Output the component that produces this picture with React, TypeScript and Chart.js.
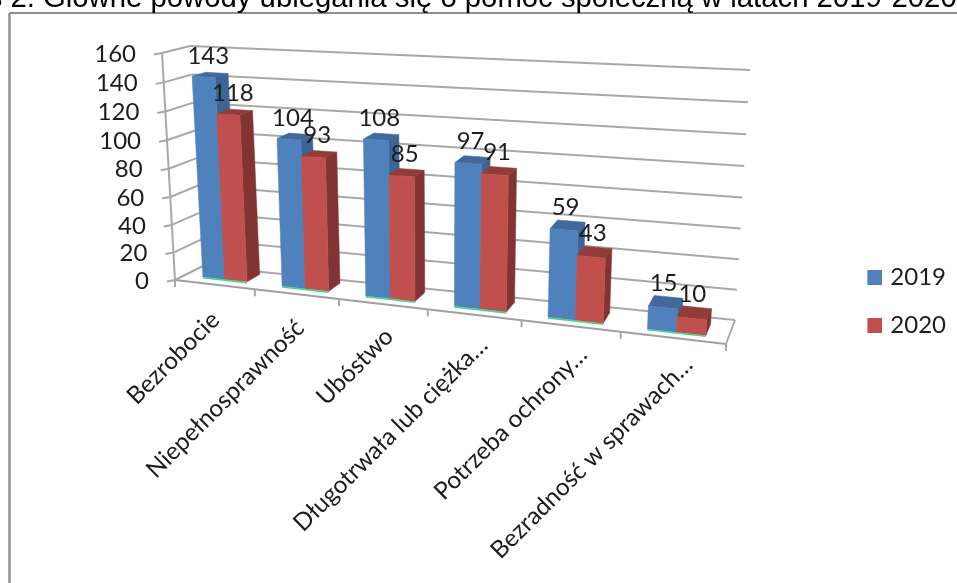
import React, { useEffect, useRef } from "react";
import { Chart, registerables } from "chart.js";

Chart.register(...registerables);

const categories = [
  "Bezrobocie",
  "Niepełnosprawność",
  "Ubóstwo",
  "Długotrwała lub ciężka…",
  "Potrzeba ochrony…",
  "Bezradność w sprawach…",
];
const values2019 = [143, 104, 108, 97, 59, 15];
const values2020 = [118, 93, 85, 91, 43, 10];
const yMax = 160;
const yStep = 20;
const titlePrefix = "Wykres 2. ";
const titleText = "Główne powody ubiegania się o pomoc społeczną w latach 2019-2020";

type P = [number, number];
// corners of the 3D box on screen
const FBL: P = [175, 280], FBR: P = [726, 344], BBL: P = [203, 266], BBR: P = [735, 320];
const FTL: P = [162, 53], FTR: P = [741, 84], BTL: P = [190, 46], BTR: P = [750, 70];
const KU = 1.18, KV = 1.04;
const DEPTH = 0.49;
const BAR_SHIFT = 0.0017;
const GRID = "#a8a8a8";
const TEXT = "#1c1c1c";
const FONT = "Lato";
const lerp = (a: P, b: P, t: number): P => [a[0] + (b[0] - a[0]) * t, a[1] + (b[1] - a[1]) * t];
const warp = (t: number, k: number) => t / (t + k * (1 - t));
const frontDepth = (u: number) => 0.37 - 0.13 * u;

function project(u: number, v: number, w: number): P {
  const uu = warp(u, KU), vv = warp(v, KV);
  const fb = lerp(FBL, FBR, uu), bb = lerp(BBL, BBR, uu);
  const ft = lerp(FTL, FTR, uu), bt = lerp(BTL, BTR, uu);
  return lerp(lerp(fb, bb, w), lerp(ft, bt, w), vv);
}

function poly(ctx: CanvasRenderingContext2D, pts: P[], fill: string) {
  ctx.beginPath();
  pts.forEach((p, i) => (i ? ctx.lineTo(p[0], p[1]) : ctx.moveTo(p[0], p[1])));
  ctx.closePath();
  ctx.fillStyle = fill;
  ctx.fill();
  ctx.strokeStyle = fill;
  ctx.lineWidth = 0.5;
  ctx.stroke();
}

function seg(ctx: CanvasRenderingContext2D, a: P, b: P, col = GRID, w = 2) {
  ctx.beginPath();
  ctx.moveTo(a[0], a[1]);
  ctx.lineTo(b[0], b[1]);
  ctx.strokeStyle = col;
  ctx.lineWidth = w;
  ctx.stroke();
}

const shades = [
  { front: "#4f81bd", side: "#3c6595", top: "#41699b" },
  { front: "#c0504d", side: "#823432", top: "#923c39" },
];

const scene3d = {
  id: "scene3d",
  beforeDatasetsDraw(chart: any) {
    const ctx: CanvasRenderingContext2D = chart.ctx;
    const a = chart.chartArea;
    const xs = chart.scales.x, ys = chart.scales.y;
    const U = (px: number) => (px - a.left) / (a.right - a.left);
    const V = (py: number) => (a.bottom - py) / (a.bottom - a.top);
    ctx.save();
    ctx.lineCap = "butt";

    // frame
    seg(ctx, [9.5, 13], [957, 13], "#8e8e8e", 2);
    seg(ctx, [9.5, 13], [9.5, 583], "#8e8e8e", 2.4);

    // title
    ctx.fillStyle = "#000";
    ctx.font = "29.3px 'Liberation Sans'";
    ctx.textAlign = "left";
    ctx.textBaseline = "alphabetic";
    ctx.fillText(titlePrefix + titleText, 43 - ctx.measureText(titlePrefix).width, 7);

    // walls
    ys.ticks.forEach((t: any) => {
      const v = V(ys.getPixelForValue(t.value));
      const f = project(0, v, 0), b = project(0, v, 1), r = project(1, v, 1);
      seg(ctx, f, b);
      seg(ctx, b, r);
      seg(ctx, f, [f[0] - 8, f[1] + 1.5]);
      ctx.fillStyle = TEXT;
      ctx.font = `24px ${FONT}`;
      ctx.textAlign = "right";
      ctx.textBaseline = "middle";
      ctx.fillText(t.label, f[0] - 26, f[1] + 1);
    });
    seg(ctx, project(0, 0, 0), project(0, 1, 0));
    seg(ctx, project(0, 0, 0), project(1, 0, 0), "#a0a0a0", 2);
    seg(ctx, project(1, 0, 0), project(1, 0, 1));
    // category boundaries and labels
    const n = categories.length;
    for (let i = 0; i <= n; i++) {
      const p = project(i / n, 0, 0);
      seg(ctx, p, [p[0], p[1] + 7]);
    }
    categories.forEach((_, i) => {
      const cx = U(xs.getPixelForValue(i));
      const m = warp(cx, KU);
      ctx.save();
      ctx.translate(216 + 569 * (m - 0.0725), 316 + 54 * (m - 0.0725));
      ctx.rotate(-Math.PI / 4);
      ctx.fillStyle = TEXT;
      ctx.font = `24.3px ${FONT}`;
      ctx.textAlign = "right";
      ctx.textBaseline = "middle";
      ctx.fillText(categories[i], 0, 0);
      ctx.restore();
    });

    // bars
    const metas = [chart.getDatasetMeta(0), chart.getDatasetMeta(1)];
    categories.forEach((_, i) => {
      const w0 = frontDepth(U(xs.getPixelForValue(i)));
      const w1 = w0 + DEPTH;
      metas.forEach((meta: any, d: number) => {
        const el = meta.data[i];
        const c = shades[d];
        const u0 = U(el.x - el.width / 2) + BAR_SHIFT, u1 = U(el.x + el.width / 2) + BAR_SHIFT;
        const vt = V(el.y), vb = V(el.base);
        const fbl = project(u0, vb, w0), fbr = project(u1, vb, w0);
        const ftl = project(u0, vt, w0), ftr = project(u1, vt, w0);
        const bbr = project(u1, vb, w1), btr = project(u1, vt, w1), btl = project(u0, vt, w1);
        poly(ctx, [ftl, ftr, btr, btl], c.top);
        poly(ctx, [fbr, ftr, btr, bbr], c.side);
        poly(ctx, [ftl, ftr, fbr, fbl], c.front);
        if (d === 1) {
          const prev = metas[0].data[i];
          const start = project(U(prev.x - prev.width / 2) + BAR_SHIFT, vb, w0);
          seg(ctx, [start[0], start[1] + 0.8], [fbr[0], fbr[1] + 0.8], "#44d688", 1.6);
        }
      });
    });

    // value labels
    metas.forEach((meta: any, d: number) => {
      meta.data.forEach((el: any, i: number) => {
        const val = chart.data.datasets[d].data[i];
        const p = project(U(el.x), V(el.y), frontDepth(U(xs.getPixelForValue(i))) + DEPTH / 2);
        ctx.fillStyle = TEXT;
        ctx.font = `24px ${FONT}`;
        ctx.textAlign = "center";
        ctx.textBaseline = "middle";
        ctx.fillText(String(val), p[0] - 1, p[1] - 18.5);
      });
    });
    ctx.restore();
    return false;
  },
};

// Legend swatch: drawn slightly to the right of the legend's box slot.
function swatch(color: string) {
  const c = document.createElement("canvas");
  c.width = 23;
  c.height = 15;
  const g = c.getContext("2d")!;
  g.fillStyle = color;
  g.fillRect(8, 0, 15, 15);
  return c;
}

export default function App() {
  const ref = useRef<HTMLCanvasElement>(null);
  useEffect(() => {
    const chart = new Chart(ref.current!, {
      type: "bar",
      data: {
        labels: categories,
        datasets: [
          { label: "2019", data: values2019, backgroundColor: shades[0].front, borderWidth: 0 },
          { label: "2020", data: values2020, backgroundColor: shades[1].front, borderWidth: 0 },
        ],
      },
      options: {
        responsive: false,
        animation: false,
        devicePixelRatio: 1,
        layout: { padding: { top: 20, right: 1 } },
        datasets: { bar: { categoryPercentage: 0.56, barPercentage: 1 } },
        scales: {
          x: { display: false },
          y: { display: false, min: 0, max: yMax, ticks: { stepSize: yStep } },
        },
        plugins: {
          legend: {
            position: "right",
            labels: {
              usePointStyle: true,
              boxWidth: 15,
              boxHeight: 15,
              padding: 24,
              color: TEXT,
              font: { family: FONT, size: 24 },
              generateLabels(c: any) {
                const items = (Chart.defaults.plugins.legend.labels as any).generateLabels(c);
                items.forEach((it: any, i: number) => {
                  it.pointStyle = swatch(shades[i].front);
                });
                return items;
              },
            },
          },
          tooltip: { enabled: false },
          title: { display: false },
        },
      },
      plugins: [scene3d],
    } as any);
    return () => chart.destroy();
  }, []);
  return (
    <div style={{ position: "fixed", left: 0, top: 0, width: 957, height: 583, background: "#fff", overflow: "hidden" }}>
      <canvas ref={ref} width={957} height={583} style={{ display: "block" }} />
    </div>
  );
}
